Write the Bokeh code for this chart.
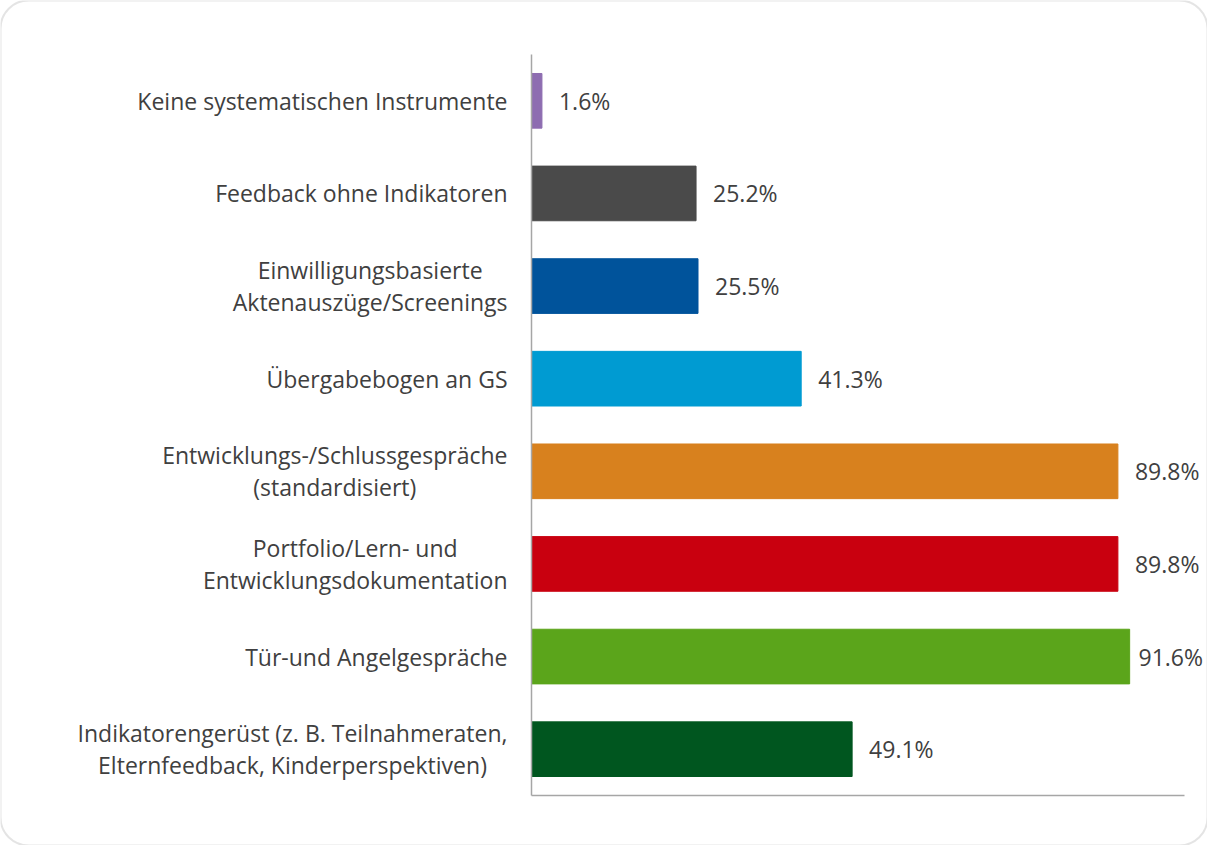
from bokeh.plotting import figure
from bokeh.models import ColumnDataSource, Range1d, BoxAnnotation
from bokeh.core.properties import value
from bokeh.embed import file_html
from bokeh.resources import INLINE

# ---- data (top to bottom as in the chart) ----
categories = [
    "Keine systematischen Instrumente",
    "Feedback ohne Indikatoren",
    "Einwilligungsbasierte\nAktenauszüge/Screenings",
    "Übergabebogen an GS",
    "Entwicklungs-/Schlussgespräche\n(standardisiert)",
    "Portfolio/Lern- und\nEntwicklungsdokumentation",
    "Tür-und Angelgespräche",
    "Indikatorengerüst (z. B. Teilnahmeraten,\nElternfeedback, Kinderperspektiven)",
]
values = [1.6, 25.2, 25.5, 41.3, 89.8, 89.8, 91.6, 49.1]
colors = ["#8E6DB1", "#4A4A4A", "#00539B", "#009BD2",
          "#D8811E", "#C9000F", "#5BA51B", "#00561F"]
value_labels = [f"{v:.1f}%" for v in values]

# ---- layout constants ----
W, H = 1207, 845
AXIS_X = 531          # canvas px where x=0 sits
PX_PER_UNIT = 6.53    # px per percentage point
TOP_PAD, BOT_PAD = 54, 50
LABEL_GAP = 17        # px between bar end and value label
LABEL_MAX_RIGHT = 69  # value labels must start at least this far from the right edge
n = len(categories)
band = (H - TOP_PAD - BOT_PAD) / n

ypos = [n - 1 - i for i in range(n)]
lab_limit = (W - LABEL_MAX_RIGHT - AXIS_X) / PX_PER_UNIT

src = ColumnDataSource(dict(
    y=ypos, val=values, color=colors, cat=categories, lab=value_labels,
    cat_x=[-24 / PX_PER_UNIT] * n,
    lab_x=[min(v + LABEL_GAP / PX_PER_UNIT, lab_limit) for v in values],
))

p = figure(
    width=W, height=H, output_backend="svg", toolbar_location=None,
    x_range=Range1d(-AXIS_X / PX_PER_UNIT, (W - AXIS_X) / PX_PER_UNIT),
    y_range=Range1d(-0.5 - BOT_PAD / band, n - 0.5 + TOP_PAD / band),
    min_border=0, outline_line_color=None,
)
p.xaxis.visible = False
p.yaxis.visible = False
p.grid.visible = False
p.background_fill_color = "white"
p.border_fill_color = "white"

# bars
p.hbar(y="y", right="val", left=0, height=0.59, color="color", source=src)

# axis lines
p.segment(x0=[0], y0=[-0.5], x1=[0], y1=[n - 0.5], line_color="#A6A6A6", line_width=1.5)
p.segment(x0=[0], y0=[-0.5], x1=[100], y1=[-0.5], line_color="#A6A6A6", line_width=1.5)

# category labels
p.text(x="cat_x", y="y", text="cat", source=src,
       anchor=value("center_right"), text_align="center",
       text_font=value("Open Sans"), text_font_size="23px",
       text_color="#404040", text_line_height=1.0)

# value labels
p.text(x="lab_x", y="y", text="lab", source=src,
       anchor=value("center_left"), text_align="left",
       text_font=value("Open Sans"), text_font_size="23px",
       text_color="#404040")

# rounded frame around the whole chart
p.add_layout(BoxAnnotation(fill_alpha=0, line_color="#A6A6A6", line_width=2,
                           border_radius=28))

open("out.html", "w").write(file_html(p, INLINE))
